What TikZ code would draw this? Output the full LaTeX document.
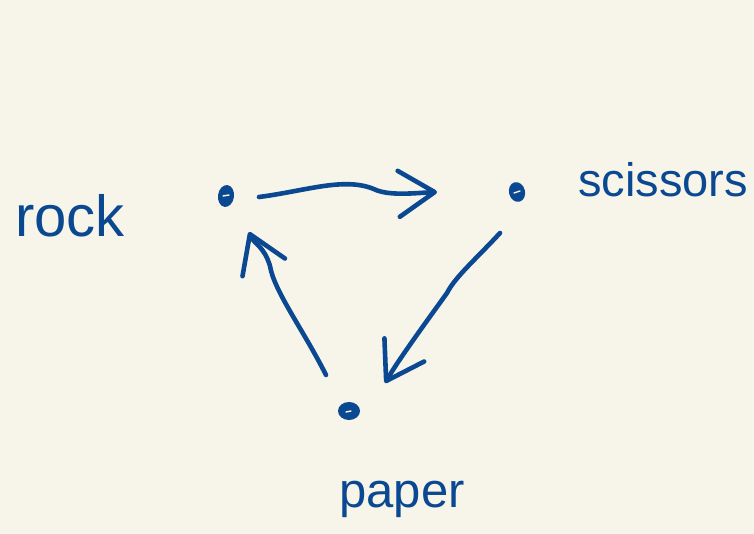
\documentclass[tikz,border=0pt]{standalone}
\usepackage{fontspec}
\setmainfont{Liberation Sans}
\usetikzlibrary{arrows.meta,calc}
\definecolor{paperbg}{RGB}{247,245,234}
\definecolor{ink}{RGB}{10,72,145}
\tikzset{
  pen/.style={draw=ink, line width=4.6pt, line cap=round, line join=round},
  arrowline/.style={pen, -{Straight Barb[length=36pt,width=46pt,line width=4.6pt,round]}},
  word/.style={text=ink, anchor=base, inner sep=0pt}
}
\begin{document}
\begin{tikzpicture}[x=1pt,y=-1pt]
  % canvas
  \fill[paperbg] (0,0) rectangle (754,534);
  \useasboundingbox (0,0) rectangle (754,534);

  % the three points
  \coordinate (rock) at (226,196);
  \coordinate (scissors) at (517,192);
  \coordinate (paper) at (349,411);
  \fill[ink, rotate around={-8:(rock)}] (rock) ellipse [x radius=8pt, y radius=11pt];
  \fill[ink, rotate around={15:(scissors)}] (scissors) ellipse [x radius=8pt, y radius=10pt];
  \fill[ink] (paper) ellipse [x radius=11pt, y radius=9pt];
  \draw[paperbg, line width=1.4pt, line cap=round] ($(rock)+(-3,0)$) -- ($(rock)+(3,-1)$);
  \draw[paperbg, line width=1.4pt, line cap=round] ($(scissors)+(-3,1)$) -- ($(scissors)+(3,-1)$);
  \draw[paperbg, line width=1.4pt, line cap=round] ($(paper)+(-3,1)$) -- ($(paper)+(2,0)$);

  % labels
  \node[word, font=\fontsize{58}{60}\selectfont] (rocklbl) at (70,237) {rock};
  \node[word, font=\fontsize{47}{50}\selectfont] (scissorslbl) at (663,197) {scissors};
  \node[word, font=\fontsize{49}{52}\selectfont] (paperlbl) at (402,507) {paper};

  % rock -> scissors
  \draw[arrowline] ($(rock)+(33,1)$)
    .. controls ($(rock)+(80,-5)$) and ($(rock)+(120,-20)$) .. ($(rock)+(150,-6)$)
    .. controls ($(rock)+(165,0)$) and ($(rock)+(190,-3)$) .. ($(scissors)+(-80,0)$);
  % scissors -> paper
  \draw[arrowline] ($(scissors)+(-17,41)$)
    .. controls ($(scissors)+(-40,66)$) and ($(scissors)+(-62,85)$) .. ($(scissors)+(-70,101)$)
    .. controls ($(scissors)+(-88,126)$) and ($(paper)+(50,-52)$) .. ($(paper)+(36,-28)$);
  % paper -> rock
  \draw[arrowline] ($(paper)+(-23,-36)$)
    .. controls ($(paper)+(-45,-80)$) and ($(paper)+(-75,-120)$) .. ($(paper)+(-79,-145)$)
    .. controls ($(paper)+(-85,-165)$) and ($(rock)+(28,48)$) .. ($(rock)+(23,36)$);
\end{tikzpicture}
\end{document}
